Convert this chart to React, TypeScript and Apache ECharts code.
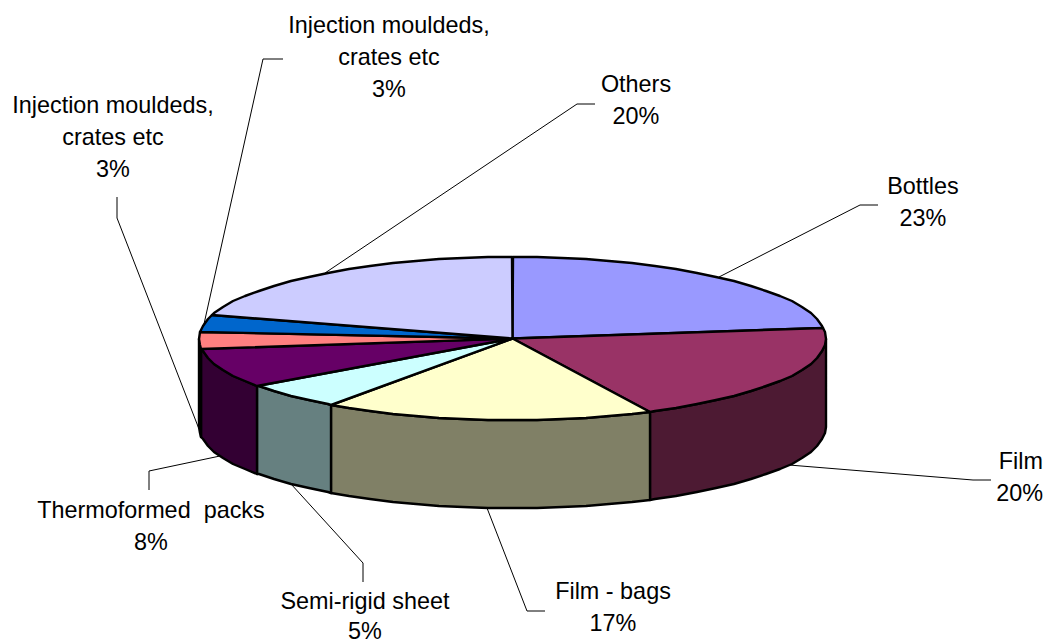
import React, { useEffect, useRef } from "react";
import * as echarts from "echarts";

// Packaging market shares, clockwise from twelve o'clock.
const names = [
  "Bottles",
  "Film",
  "Film - bags",
  "Semi-rigid sheet",
  "Thermoformed  packs",
  "Injection mouldeds,\ncrates etc",
  "Injection mouldeds,\ncrates etc",
  "Others",
];
const shares = [22.9, 19.9, 17.0, 5.4, 7.8, 3.2, 3.4, 20.4];
const topColors = ["#9999FF", "#993366", "#FFFFCC", "#CCFFFF", "#660066", "#FF8080", "#0066CC", "#CCCCFF"];
const wallColors = ["#4D4D80", "#4D1A33", "#808066", "#668080", "#330033", "#804040", "#003366", "#666680"];

// Label blocks: x, vertical centre, text alignment.
const labelX = [923, 1043, 613, 365, 151, 113, 389, 636];
const labelY = [202, 477, 607, 617, 526, 137, 57, 100];
const labelAlign = ["center", "right", "center", "center", "center", "center", "center", "center"];
// Leader lines run from the slice edge through these two points.
const elbowA = [[860, 205], [973, 480], [527, 611], [363, 563], [149, 471], [117, 218], [263, 59], [577, 104]];
const elbowB = [[878, 205], [991, 480], [545, 611], [363, 582], [149, 490], [117, 197], [283, 59], [595, 104]];

const CX = 512.5;
const CY = 338.5;
const RX = 313.5;
const RY = 81.5;
const DEPTH = 88;
const STEP = 4.5;
const LINE_GAP = 32;
const PAGE_HEIGHT = 643;
const FONT = '23.4px "Liberation Sans", Arial, sans-serif';

const total = shares.reduce((a, b) => a + b, 0);
const startAngle = (i: number) =>
  (shares.slice(0, i).reduce((a, b) => a + b, 0) / total) * 360;

// Rim point for an angle measured clockwise from the back of the disc.
const rim = (deg: number, drop = 0) => {
  const r = (deg * Math.PI) / 180;
  return [Math.round(CX + RX * Math.sin(r)), Math.round(CY - RY * Math.cos(r) + drop)];
};

const arcAngles = (a0: number, a1: number) => {
  const out = [a0];
  let k = Math.floor(a0 / STEP) + 1;
  while (k * STEP < a1) {
    out.push(k * STEP);
    k += 1;
  }
  out.push(a1);
  return out;
};

const outline = { stroke: "#000", lineWidth: 2.4, lineJoin: "round" };

const sliceTop = (_: any, api: any) => {
  const i = api.value(0);
  const pts = [[CX, CY], ...arcAngles(startAngle(i), startAngle(i + 1)).map((a) => rim(a))];
  return {
    type: "polygon",
    shape: { points: pts },
    style: { fill: topColors[i], ...outline },
  };
};

const sliceWall = (_: any, api: any) => {
  const i = api.value(0);
  const a0 = Math.max(startAngle(i), 90);
  const a1 = Math.min(startAngle(i + 1), 270);
  if (a1 <= a0) return { type: "group", children: [] };
  const arc = arcAngles(a0, a1);
  const pts = [...arc.map((a) => rim(a)), ...arc.slice().reverse().map((a) => rim(a, DEPTH))];
  return {
    type: "polygon",
    shape: { points: pts },
    style: { fill: wallColors[i], ...outline },
  };
};

const leader = (_: any, api: any) => {
  const i = api.value(0);
  const mid = (startAngle(i) + startAngle(i + 1)) / 2;
  const onFront = mid > 90 && mid < 270;
  return {
    type: "polyline",
    shape: { points: [rim(mid, onFront ? DEPTH : 0), elbowA[i], elbowB[i]] },
    style: { fill: "none", stroke: "#000", lineWidth: 1 },
  };
};

// One text element per line so the fixed line gap never spills past the page edge.
const label = (_: any, api: any) => {
  const i = api.value(0);
  const lines = `${names[i]}\n${Math.round(shares[i])}%`.split("\n");
  const firstY = labelY[i] - ((lines.length - 1) * LINE_GAP) / 2;
  return {
    type: "group",
    children: lines.map((line, n) => ({
      type: "text",
      style: {
        x: labelX[i],
        y: Math.min(firstY + n * LINE_GAP, PAGE_HEIGHT - 12),
        text: line,
        font: FONT,
        fill: "#000",
        align: labelAlign[i],
        verticalAlign: "middle",
      },
    })),
  };
};

export default function App() {
  const ref = useRef<HTMLDivElement>(null);

  useEffect(() => {
    const chart = echarts.init(ref.current!, undefined, { renderer: "svg" });
    const data = shares.map((_, i) => [i, shares[i]]);
    const layer = (renderItem: any) => ({
      type: "custom" as const,
      coordinateSystem: "none",
      silent: true,
      clip: false,
      renderItem,
      data,
    });
    chart.setOption({
      animation: false,
      backgroundColor: "#fff",
      series: [layer(leader), layer(sliceWall), layer(sliceTop), layer(label)],
    });
    return () => chart.dispose();
  }, []);

  return (
    <div
      ref={ref}
      style={{ position: "absolute", left: 0, top: 0, width: 1047, height: 643 }}
    />
  );
}
